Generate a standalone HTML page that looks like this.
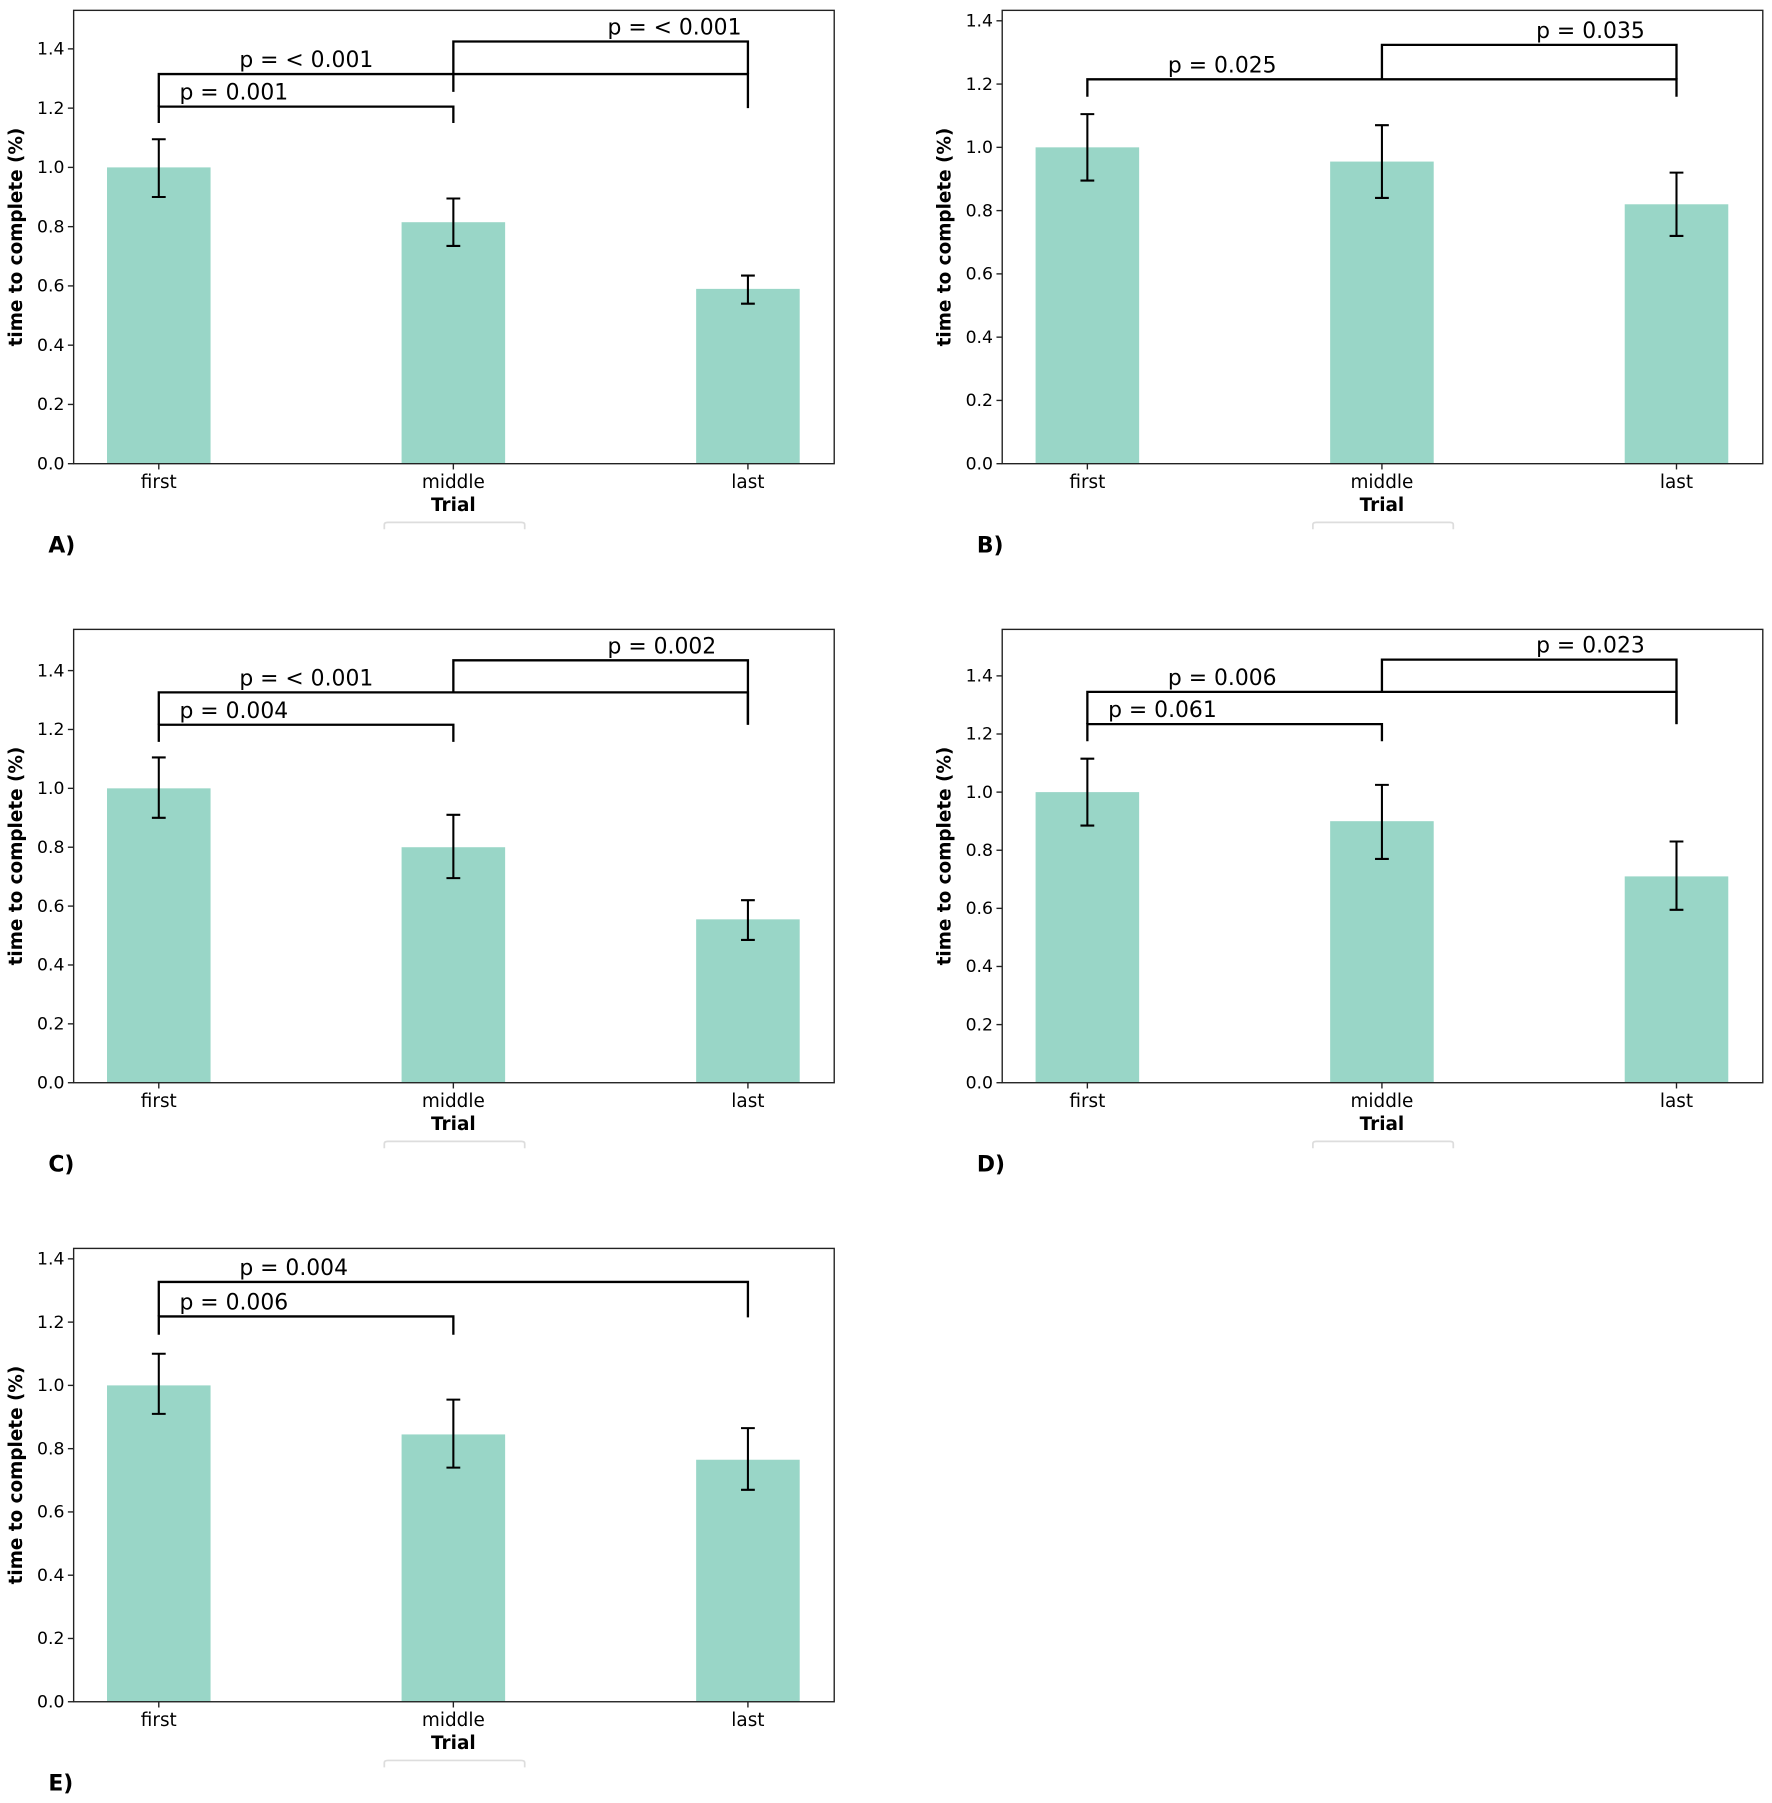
<!DOCTYPE html>
<html><head><meta charset="utf-8">
<style>
html,body{margin:0;padding:0;background:#fff;}
svg{display:block;}
text{font-family:"DejaVu Sans","Liberation Sans",sans-serif;fill:#000;}
</style></head>
<body>
<svg id="fig" width="1772" height="1803" viewBox="0 0 1540 1567" preserveAspectRatio="none" xmlns="http://www.w3.org/2000/svg"></svg>
<script>
// ---- data ----
const categories = ["first","middle","last"];
const panelLabels = ["A)","B)","C)","D)","E)"];
const yTicks = [0.0,0.2,0.4,0.6,0.8,1.0,1.2,1.4];
const tickLabels = ["0.0","0.2","0.4","0.6","0.8","1.0","1.2","1.4"];
const yMax = [1.53,1.433,1.54,1.56,1.433];
const meansA = [1.0,0.815,0.59];
const lowA = [0.90,0.735,0.54];
const highA = [1.095,0.895,0.635];
const meansB = [1.0,0.955,0.82];
const lowB = [0.895,0.84,0.72];
const highB = [1.105,1.07,0.92];
const meansC = [1.0,0.80,0.555];
const lowC = [0.90,0.695,0.485];
const highC = [1.105,0.91,0.62];
const meansD = [1.0,0.90,0.71];
const lowD = [0.885,0.77,0.595];
const highD = [1.115,1.025,0.83];
const meansE = [1.0,0.845,0.765];
const lowE = [0.91,0.74,0.67];
const highE = [1.10,0.955,0.865];
// brackets: [fromIdx, toIdx, y, leftLegEnd, rightLegEnd, label]
const bracketsA = [[0,1,1.205,1.15,1.15,"p = 0.001"],[0,2,1.315,1.205,1.2,"p = < 0.001"],[1,2,1.425,1.255,1.315,"p = < 0.001"]];
const bracketsB = [[0,2,1.215,1.16,1.16,"p = 0.025"],[1,2,1.324,1.215,1.215,"p = 0.035"]];
const bracketsC = [[0,1,1.216,1.158,1.158,"p = 0.004"],[0,2,1.326,1.216,1.216,"p = < 0.001"],[1,2,1.435,1.326,1.216,"p = 0.002"]];
const bracketsD = [[0,1,1.234,1.175,1.175,"p = 0.061"],[0,2,1.345,1.234,1.234,"p = 0.006"],[1,2,1.456,1.345,1.234,"p = 0.023"]];
const bracketsE = [[0,1,1.218,1.16,1.16,"p = 0.006"],[0,2,1.327,1.218,1.215,"p = 0.004"]];

const panels = [
 {x:64,y:9,m:meansA,lo:lowA,hi:highA,br:bracketsA},
 {x:871,y:9,m:meansB,lo:lowB,hi:highB,br:bracketsB},
 {x:64,y:547,m:meansC,lo:lowC,hi:highC,br:bracketsC},
 {x:871,y:547,m:meansD,lo:lowD,hi:highD,br:bracketsD},
 {x:64,y:1085,m:meansE,lo:lowE,hi:highE,br:bracketsE}
];
const W=661,H=394;
const NS="http://www.w3.org/2000/svg";
const svg=document.getElementById('fig');
function mk(tag,attrs,parent,txt){const e=document.createElementNS(NS,tag);for(const k in attrs)e.setAttribute(k,attrs[k]);if(txt!==undefined)e.textContent=txt;(parent||svg).appendChild(e);return e;}

panels.forEach((p,pi)=>{
  const g=mk('g',{});
  
  
  const ys=v=>p.y+H-v/yMax[pi]*H;
  const xs=i=>p.x+74+i*256;
  p.m.forEach((v,i)=>{
    const r=mk('rect',{x:xs(i)-45,y:ys(v),width:90,height:ys(0)-ys(v),fill:'#99d6c7'},g);
    
    
  });
  p.m.forEach((v,i)=>{
    const e=mk('path',{d:`M${xs(i)},${ys(p.lo[i])}V${ys(p.hi[i])}M${xs(i)-6},${ys(p.lo[i])}H${xs(i)+6}M${xs(i)-6},${ys(p.hi[i])}H${xs(i)+6}`,stroke:'#000','stroke-width':1.8,fill:'none'},g);
    
    
  });
  p.br.forEach((b,bi)=>{
    const x1=xs(b[0]),x2=xs(b[1]);
    const e=mk('path',{d:`M${x1},${ys(b[3])}V${ys(b[2])}H${x2}V${ys(b[4])}`,stroke:'#000','stroke-width':2,fill:'none'},g);
    
    
    const tx = b[1]-b[0]===1 && b[0]===0 ? x1+18 : (b[0]===0 ? x1+70 : x2-122);
    const t=mk('text',{x:tx,y:ys(b[2])-6,'font-size':19},g,b[5]);
    
    
  });
  const fr=mk('rect',{x:p.x,y:p.y,width:W,height:H,fill:'none',stroke:'#222','stroke-width':1.2},g);
  
  
  yTicks.forEach((t,ti)=>{
    if(t>yMax[pi])return;
    mk('line',{x1:p.x-5,x2:p.x,y1:ys(t),y2:ys(t),stroke:'#222','stroke-width':1.2},g);
    const l=mk('text',{x:p.x-8,y:ys(t)+5,'font-size':15,'text-anchor':'end'},g,tickLabels[ti]);
    
    
  });
  categories.forEach((c,i)=>{
    mk('line',{x1:xs(i),x2:xs(i),y1:p.y+H,y2:p.y+H+5,stroke:'#222','stroke-width':1.2},g);
    const l=mk('text',{x:xs(i),y:p.y+H+21,'font-size':16,'text-anchor':'middle'},g,c);
    
    
  });
  const xt=mk('text',{x:p.x+330,y:p.y+H+41,'font-size':16,'font-weight':'bold','text-anchor':'middle'},g,'Trial');
  
  
  mk('path',{d:`M${p.x+270},${p.y+H+57}V${p.y+H+53}Q${p.x+270},${p.y+H+51} ${p.x+273},${p.y+H+51}H${p.x+389}Q${p.x+392},${p.y+H+51} ${p.x+392},${p.y+H+53}V${p.y+H+57}`,stroke:'#ddd','stroke-width':1.5,fill:'none'},g);
  const yt=mk('text',{x:0,y:0,'font-size':16,'font-weight':'bold','text-anchor':'middle',transform:`translate(${p.x-45},${p.y+H/2}) rotate(-90)`},g,'time to complete (%)');
  
  
  const pl=mk('text',{x:p.x-22,y:p.y+H+77,'font-size':19,'font-weight':'bold'},g,panelLabels[pi]);
  
  
});
</script>
</body></html>
